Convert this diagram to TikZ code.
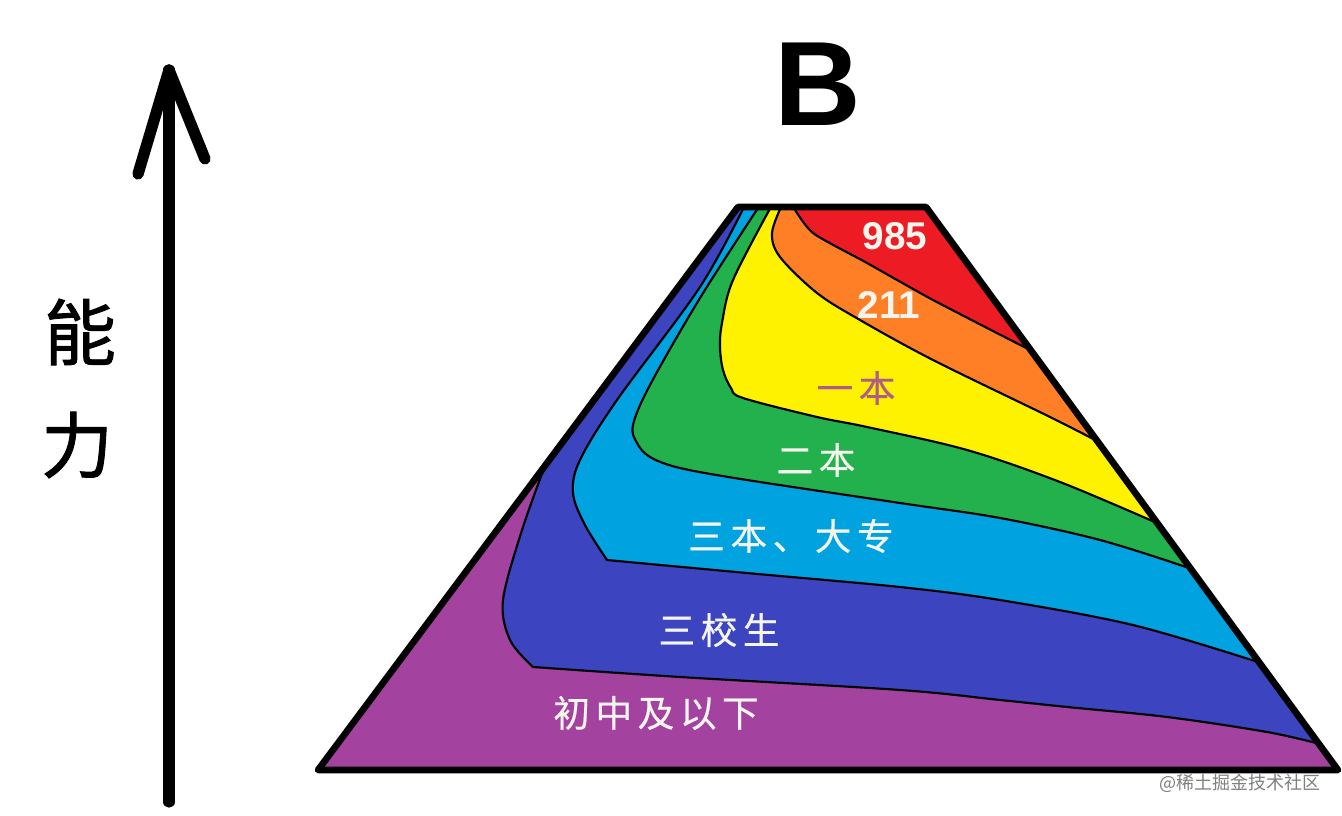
\documentclass[tikz,border=0pt]{standalone}
\usepackage{fontspec}
\newfontfamily\cjk{Noto Sans CJK SC}
\newfontfamily\cjkheavy[FakeBold=1.2]{Noto Sans CJK SC}
\newfontfamily\cjkspaced[LetterSpace=15,FakeBold=0.5]{Noto Sans CJK SC}
\setmainfont{Liberation Sans}
\definecolor{cpurple}{HTML}{A3429F}
\definecolor{cblue}{HTML}{3C44BF}
\definecolor{ccyan}{HTML}{00A2E0}
\definecolor{cgreen}{HTML}{22B14C}
\definecolor{cyellow}{HTML}{FFF200}
\definecolor{corange}{HTML}{FF7F27}
\definecolor{cred}{HTML}{ED1C24}
\definecolor{softwhite}{HTML}{F4F6EE}
\tikzset{
  bandline/.style={draw=black,line width=1.6pt,fill=#1,line join=round},
  layerlabel/.style={font=\cjkspaced\fontsize{27.5}{28}\selectfont,text=softwhite,inner sep=0pt},
  numlabel/.style={font=\bfseries\fontsize{29}{29}\selectfont,text=softwhite,inner sep=0pt},
  side/.style={line width=5pt,line cap=round,line join=round,draw=black},
  bigarrow/.style={line width=8.5pt,line cap=round,draw=black},
  soft/.style={smooth,tension=0.55},
}
\begin{document}
\begin{tikzpicture}[x=0.75pt,y=-0.75pt]
\useasboundingbox (0,0) rectangle (1342,816);
\fill[white] (0,0) rectangle (1342,816);
\coordinate (tl) at (738,207);
\coordinate (tr) at (926,207);
\coordinate (br) at (1338,770);
\coordinate (bl) at (318,770);
\fill[cpurple] (tl) -- (tr) -- (br) -- (bl) -- cycle;
\begin{scope}
\clip (tl) -- (tr) -- (br) -- (bl) -- cycle;
% blue
\path[bandline=cblue] (738,207) -- (546,463)
  -- plot[soft] coordinates {(546,463) (522,530) (503,600) (510,640) (533,667)}
  -- plot[soft] coordinates {(533,667) (680,677) (900,690) (1000,700) (1067,707) (1167,717) (1267,732) (1320,744)}
  -- (1340,744) -- (1340,200) -- cycle;
% cyan
\path[bandline=ccyan] (745,205)
  -- plot[soft] coordinates {(745,205) (700,287) (617,400) (580,460) (573,493) (585,525) (607,560)}
  -- plot[soft] coordinates {(607,560) (747,573) (900,587) (1000,600) (1133,625) (1258,662)}
  -- (1340,662) -- (1340,200) -- cycle;
% green
\path[bandline=cgreen] (760,205)
  -- plot[soft] coordinates {(760,205) (700,298) (650,385) (633,425) (637,443) (650,457) (680,468) (747,480) (900,503) (1000,518) (1100,540) (1189,568)}
  -- (1340,568) -- (1340,200) -- cycle;
% yellow
\path[bandline=cyellow] (772,205)
  -- plot[soft] coordinates {(772,205) (733,280) (722,323) (720,347) (723,370) (731,388) (743,398) (817,417) (867,427) (967,450) (1060,482) (1157,523)}
  -- (1340,523) -- (1340,200) -- cycle;
% orange
\path[bandline=corange] (782,205)
  -- plot[soft] coordinates {(782,205) (772,233) (780,257) (817,293) (860,320) (933,360) (1050,417) (1097,441)}
  -- (1340,441) -- (1340,200) -- cycle;
% red
\path[bandline=cred] (792,205)
  -- plot[smooth,tension=0.4] coordinates {(792,205) (813,233) (867,263) (933,300) (1030,350)}
  -- (1340,350) -- (1340,200) -- cycle;
\end{scope}
\draw[side] (tl) -- (tr) -- (br) -- (bl) -- cycle;
% axis
\coordinate (axbase) at (169,802);
\coordinate (axtip) at (169,70);
\coordinate (axl) at (138,174);
\coordinate (axr) at (205,159);
\draw[bigarrow] (axbase) -- (axtip);
\draw[bigarrow,line join=round] (axl) -- (axtip) -- (axr);
% texts
\node[inner sep=0pt,font=\bfseries\fontsize{90}{90}\selectfont] (title) at (818,84) {B};
\node[inner sep=0pt,font=\cjkheavy\fontsize{54}{54}\selectfont] (neng) at (80,332) {能};
\node[inner sep=0pt,font=\cjkheavy\fontsize{54}{54}\selectfont] (li) at (77,445) {力};
\node[numlabel] (n985) at (895,236) {985};
\node[numlabel] (n211) at (889,305) {211};
\node[layerlabel,text=cpurple!85!cyellow] (yi) at (856,388) {一本};
\node[layerlabel] (er) at (816,460) {二本};
\node[layerlabel] (san) at (791,536) {三本、大专};
\node[layerlabel] (sx) at (719,630) {三校生};
\node[layerlabel] (cz) at (656,713) {初中及以下};
\node[inner sep=0pt,text=black!50,font=\cjk\fontsize{13.5}{14}\selectfont] (wm) at (1240,783) {@稀土掘金技术社区};
\end{tikzpicture}
\end{document}
